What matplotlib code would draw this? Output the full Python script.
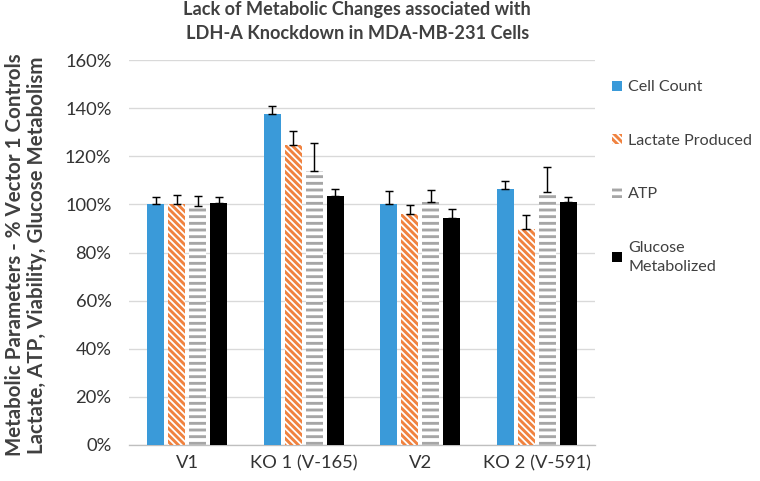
import matplotlib
matplotlib.use("Agg")
import matplotlib.pyplot as plt
import numpy as np
from matplotlib.ticker import FuncFormatter

categories = ["V1", "KO 1 (V-165)", "V2", "KO 2 (V-591)"]
series_names = ["Cell Count", "Lactate Produced", "ATP", "Glucose\nMetabolized"]
cell_count = [100.0, 137.5, 100.0, 106.3]
lactate = [100.0, 124.7, 95.9, 89.6]
atp = [99.2, 113.9, 100.9, 105.0]
glucose = [100.5, 103.6, 94.5, 100.9]
err_cell = [3.0, 3.3, 5.5, 3.3]
err_lactate = [4.0, 5.8, 3.9, 5.8]
err_atp = [4.5, 11.6, 5.0, 10.5]
err_glucose = [2.5, 2.8, 3.7, 2.0]
yticks = [0, 20, 40, 60, 80, 100, 120, 140, 160]

plt.rcParams['font.family'] = ['Lato', 'DejaVu Sans']
plt.rcParams['hatch.linewidth'] = 2.6

fig = plt.figure(figsize=(9.5, 6.0125), dpi=80)
ax = fig.add_axes([0.170, 0.075, 0.613, 0.800])

x = np.arange(len(categories))
w = 0.146
step = 0.18
values = [cell_count, lactate, atp, glucose]
errs = [err_cell, err_lactate, err_atp, err_glucose]
styles = [
    dict(color="#3A9AD9", edgecolor="none"),
    dict(color="white", edgecolor="#F0823F", hatch="\\\\\\\\", linewidth=0),
    dict(color="white", edgecolor="#A6A6A6", hatch="--", linewidth=0),
    dict(color="black", edgecolor="none"),
]
for i, (vals, e, st, name) in enumerate(zip(values, errs, styles, series_names)):
    pos = x + (i - 1.5) * step
    ax.bar(pos, vals, width=w, label=name, zorder=3, **st)
    ax.errorbar(pos, vals, yerr=[np.zeros(len(e)), e], fmt="none", ecolor="black",
                elinewidth=1.3, capsize=4, capthick=1.3, zorder=4)

ax.set_ylim(0, 160)
ax.set_xlim(-0.5, 3.5)
ax.set_yticks(yticks)
ax.yaxis.set_major_formatter(FuncFormatter(lambda v, p: f"{int(v)}%"))
ax.set_xticks(x)
ax.set_xticklabels(categories)
ax.tick_params(axis="both", length=0, labelsize=16.5, colors="#333333")
ax.tick_params(axis="y", pad=16)
ax.tick_params(axis="x", pad=9)
ax.grid(axis="y", color="#D9D9D9", linewidth=1.2, zorder=0)
for s in ["top", "right", "left"]:
    ax.spines[s].set_visible(False)
ax.spines["bottom"].set_color("#BFBFBF")
ax.spines["bottom"].set_linewidth(1.2)

fig.text(0.470, 0.997, "Lack of Metabolic Changes associated with\nLDH-A Knockdown in MDA-MB-231 Cells",
         ha="center", va="top", fontsize=16.3, fontweight="bold", color="#404040", linespacing=1.45)

fig.text(0.034, 0.47, "Metabolic Parameters - % Vector 1 Controls\nLactate, ATP, Viability, Glucose Metabolism",
         rotation=90, ha="center", va="center", fontsize=18.5, fontweight="bold", color="#404040",
         linespacing=1.1)

leg = ax.legend(loc="upper left", bbox_to_anchor=(1.005, 0.985), frameon=False,
                fontsize=14.5, handlelength=0.6, handleheight=0.6, handletextpad=0.4,
                labelspacing=2.45, labelcolor="#404040")
for t in leg.get_texts():
    t.set_linespacing(1.45)

fig.savefig("out.png", dpi=80)
